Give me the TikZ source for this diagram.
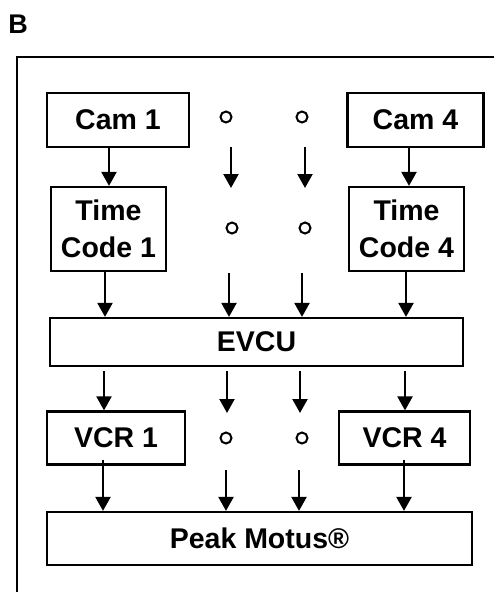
\documentclass[tikz,border=0pt]{standalone}
\usepackage{fontspec}
\setmainfont{Liberation Sans}
\usetikzlibrary{arrows.meta}
\tikzset{
  box/.style={draw, line width=2.2pt, rectangle, inner sep=0pt, align=center,
    font=\fontsize{28.5}{37}\selectfont\bfseries},
  dot/.style={draw, circle, line width=2pt, minimum size=11pt, inner sep=0pt},
  arr/.style={line width=2.2pt, -{Triangle[width=15pt,length=14pt]}},
  frame/.style={line width=2.2pt}
}
\begin{document}
\begin{tikzpicture}[x=1pt,y=-1pt]
\useasboundingbox (0,0) rectangle (494,592);
\node[font=\fontsize{27}{30}\selectfont\bfseries, inner sep=0pt] (lab) at (18,24) {B};
\draw[frame] (17,600) -- (17,57) -- (500,57);

\node[box, minimum width=142pt, minimum height=54pt] (cam1) at (118,120) {Cam 1};
\node[box, minimum width=136pt, minimum height=54pt] (cam4) at (415.5,120) {Cam 4};
\node[box, minimum width=115pt, minimum height=84pt] (tc1) at (108.5,229) {Time\\Code 1};
\node[box, minimum width=115pt, minimum height=84pt] (tc4) at (406.5,229) {Time\\Code 4};
\node[box, minimum width=413pt, minimum height=48pt] (evcu) at (256.5,342) {EVCU};
\node[box, minimum width=138pt, minimum height=53pt] (vcr1) at (116,438) {VCR 1};
\node[box, minimum width=131pt, minimum height=53pt] (vcr4) at (404.5,438) {VCR 4};
\node[box, minimum width=425pt, minimum height=53pt] (peak) at (259.5,538.5) {Peak Motus®};

\node[dot] (d1) at (226,117) {};
\node[dot] (d2) at (302,117) {};
\node[dot] (d3) at (232,228) {};
\node[dot] (d4) at (305,228) {};
\node[dot] (d5) at (226,438) {};
\node[dot] (d6) at (302,438) {};

% row 1
\coordinate (r1a) at (231,147); \coordinate (r1b) at (231,188);
\coordinate (r1c) at (305,147); \coordinate (r1d) at (305,188);
\draw[arr] ([xshift=-9pt]cam1.south) -- ([xshift=-9pt]cam1.south |- tc1.north);
\draw[arr] (r1a) -- (r1b);
\draw[arr] (r1c) -- (r1d);
\draw[arr] ([xshift=-6.5pt]cam4.south) -- ([xshift=-6.5pt]cam4.south |- tc4.north);

% row 2
\coordinate (r2a) at (229,273); \coordinate (r2b) at (302,273);
\draw[arr] ([xshift=-3.5pt,yshift=2pt]tc1.south) -- ([xshift=-3.5pt]tc1.south |- evcu.north);
\draw[arr] (r2a) -- (r2a |- evcu.north);
\draw[arr] (r2b) -- (r2b |- evcu.north);
\draw[arr] ([xshift=-0.5pt,yshift=2pt]tc4.south) -- ([xshift=-0.5pt]tc4.south |- evcu.north);

% row 3
\coordinate (r3a) at (104,371); \coordinate (r3b) at (227,371);
\coordinate (r3c) at (300,371); \coordinate (r3d) at (405,371);
\coordinate (r3e) at (227,413); \coordinate (r3f) at (300,413);
\draw[arr] (r3a) -- (r3a |- vcr1.north);
\draw[arr] (r3b) -- (r3e);
\draw[arr] (r3c) -- (r3f);
\draw[arr] (r3d) -- (r3d |- vcr4.north);

% row 4
\coordinate (r4a) at (226,470); \coordinate (r4b) at (299,470);
\draw[arr] ([xshift=-13pt,yshift=6pt]vcr1.south) -- ([xshift=-13pt]vcr1.south |- peak.north);
\draw[arr] (r4a) -- (r4a |- peak.north);
\draw[arr] (r4b) -- (r4b |- peak.north);
\draw[arr] ([xshift=-0.5pt,yshift=6pt]vcr4.south) -- ([xshift=-0.5pt]vcr4.south |- peak.north);
\end{tikzpicture}
\end{document}
